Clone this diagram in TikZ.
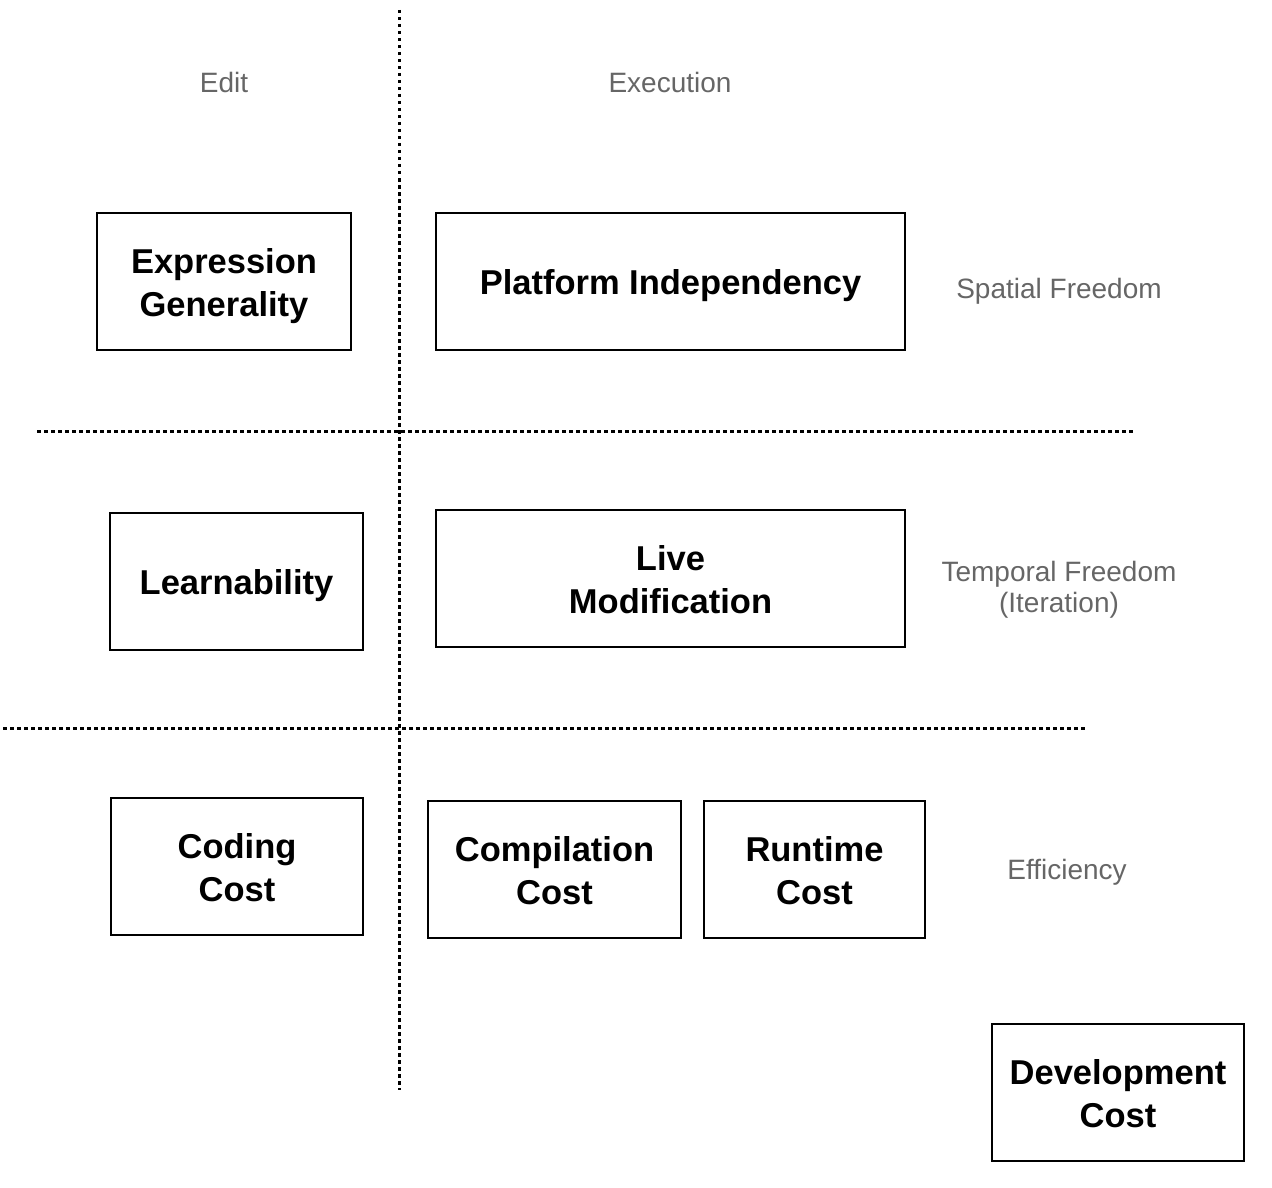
\documentclass[tikz,border=0pt]{standalone}
\usepackage{fontspec}
\setmainfont{Liberation Sans}
\newcommand\bxt[1]{\raisebox{-4.8pt}[\height][\depth]{\begin{tabular}{@{}c@{}}#1\end{tabular}}}
\newcommand\lbt[1]{\raisebox{-3.8pt}[\height][\depth]{\begin{tabular}{@{}c@{}}#1\end{tabular}}}
\begin{document}
\begin{tikzpicture}[x=1pt,y=-1pt,
  box/.style={draw=black,line width=1.6pt,inner sep=0pt,font=\fontsize{34.5}{43}\selectfont\bfseries},
  lbl/.style={text=black!60,inner sep=0pt,font=\fontsize{28}{31}\selectfont},
  sep/.style={line width=3pt,dash pattern=on 3.5pt off 3.5pt}]
\useasboundingbox (0,0) rectangle (1272,1188);
% boxes
\node[box,minimum width=254pt,minimum height=137pt] (eg) at (224,281.5) {\bxt{Expression\\Generality}};
\node[box,minimum width=469pt,minimum height=137pt] (pi) at (670.5,281.5) {\bxt{Platform Independency}};
\node[box,minimum width=253pt,minimum height=137pt] (le) at (236.5,581.5) {\bxt{Learnability}};
\node[box,minimum width=469pt,minimum height=137pt] (lm) at (670.5,578.5) {\bxt{Live\\Modification}};
\node[box,minimum width=252pt,minimum height=137pt] (cc) at (237,866.5) {\bxt{Coding\\Cost}};
\node[box,minimum width=253pt,minimum height=137pt] (co) at (554.5,869.5) {\bxt{Compilation\\Cost}};
\node[box,minimum width=221pt,minimum height=137pt] (rc) at (814.5,869.5) {\bxt{Runtime\\Cost}};
\node[box,minimum width=252pt,minimum height=137pt] (dc) at (1118,1092.5) {\bxt{Development\\Cost}};
% labels
\node[lbl] (edit) at (224,83) {\lbt{Edit}};
\node[lbl] (exec) at (670,83) {\lbt{Execution}};
\node[lbl] (sf) at (1059,288) {\lbt{Spatial Freedom}};
\node[lbl] (tf) at (1059,587) {\lbt{Temporal Freedom\\(Iteration)}};
\node[lbl] (ef) at (1067,869) {\lbt{Efficiency}};
% separators
\coordinate (v1) at (399,10);
\coordinate (v2) at (399,1090);
\coordinate (h1a) at (37,431);
\coordinate (h1b) at (1135,431);
\coordinate (h2a) at (3,728);
\coordinate (h2b) at (1087,728);
\draw[sep] (v1) -- (v2);
\draw[sep] (h1a) -- (h1b);
\draw[sep] (h2a) -- (h2b);
\end{tikzpicture}
\end{document}
